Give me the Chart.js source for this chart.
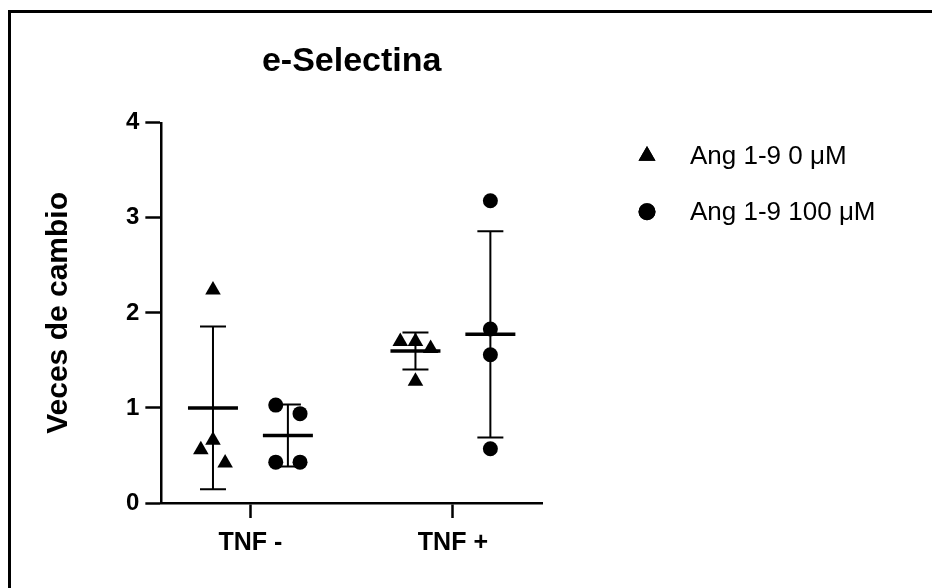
<!DOCTYPE html>
<html>
<head>
<meta charset="utf-8">
<script src="https://cdn.jsdelivr.net/npm/chart.js@4.4.1/dist/chart.umd.min.js"></script>
<style>
    html, body { margin: 0; padding: 0; background: #fff; }
    #marco-externo { position: relative; width: 932px; height: 588px; overflow: hidden; }
    #marco { position: absolute; left: 8px; top: 10px; width: 1000px; height: 700px; border: 3px solid #000; }
    #grafico { position: absolute; left: 0; top: 0; }
</style>
</head>
<body>
<div id="marco-externo">
    <div id="marco"></div>
    <canvas id="grafico" width="932" height="588"></canvas>
</div>
<script>
// ============================================
// DATOS
// ============================================
const categorias = ['TNF -', 'TNF +'];
const ticksY = [0, 1, 2, 3, 4];
const series = ['Ang 1-9 0 \u03bcM', 'Ang 1-9 100 \u03bcM'];

// valores individuales (4 por grupo)
const ang0TnfMenos = [2.24, 0.56, 0.66, 0.42];
const ang0TnfMas = [1.70, 1.70, 1.625, 1.28];
const ang100TnfMenos = [1.03, 0.94, 0.43, 0.43];
const ang100TnfMas = [3.18, 1.83, 1.56, 0.57];

// media y desviacion estandar por grupo
const mediaAng0 = [1.00, 1.60];
const deAng0 = [0.856, 0.195];
const mediaAng100 = [0.71, 1.775];
const deAng100 = [0.325, 1.085];

// posicion horizontal: serie dentro de la categoria y dispersion de los puntos
const desplazamientoSerie = [-0.185, 0.185];
const dispersionAng0 = [[0, -0.06, 0, 0.06], [-0.075, 0, 0.075, 0]];
const dispersionAng100 = [[-0.06, 0.06, -0.06, 0.06], [0, 0, 0, 0]];

const fuente = "'Liberation Sans', Arial, sans-serif";

// ============================================
// FUNCIONES
// ============================================
function puntos(grupos, dispersion, serie) {
    const resultado = [];
    grupos.forEach(function (valores, cat) {
        valores.forEach(function (v, k) {
            resultado.push({ x: cat + desplazamientoSerie[serie] + dispersion[cat][k], y: v });
        });
    });
    return resultado;
}

// media (linea gruesa) y DE (linea con topes)
const mediaDE = {
    id: 'mediaDE',
    afterDatasetsDraw: function (chart) {
        const ctx = chart.ctx;
        const xScale = chart.scales.x;
        const yScale = chart.scales.y;
        ctx.save();
        ctx.strokeStyle = '#000';
        ctx.lineCap = 'butt';
        chart.data.datasets.forEach(function (ds, i) {
            ds.media.forEach(function (m, cat) {
                const cx = xScale.getPixelForValue(cat + desplazamientoSerie[i]);
                const yM = yScale.getPixelForValue(m);
                const yA = yScale.getPixelForValue(m + ds.de[cat]);
                const yB = yScale.getPixelForValue(m - ds.de[cat]);
                ctx.lineWidth = 2;
                ctx.beginPath();
                ctx.moveTo(cx, yA); ctx.lineTo(cx, yB);
                ctx.moveTo(cx - 13, yA); ctx.lineTo(cx + 13, yA);
                ctx.moveTo(cx - 13, yB); ctx.lineTo(cx + 13, yB);
                ctx.stroke();
                ctx.lineWidth = 3.5;
                ctx.beginPath();
                ctx.moveTo(cx - 25, yM); ctx.lineTo(cx + 25, yM);
                ctx.stroke();
            });
        });
        ctx.restore();
    }
};

// leyenda a la derecha del grafico
const leyenda = {
    id: 'leyenda',
    afterDraw: function (chart) {
        const ctx = chart.ctx;
        const area = chart.chartArea;
        ctx.save();
        ctx.fillStyle = '#000';
        ctx.font = '26px ' + fuente;
        ctx.textBaseline = 'middle';
        ctx.textAlign = 'left';
        chart.data.datasets.forEach(function (ds, i) {
            const x = area.right + 105;
            const y = area.top + 33 + i * 56;
            Chart.helpers.drawPoint(ctx, {
                pointStyle: ds.pointStyle,
                radius: ds.pointStyle === 'triangle' ? 9.8 : 8.5,
                rotation: 0,
                borderWidth: 0
            }, x, y);
            ctx.fillStyle = '#000';
            ctx.fill();
            ctx.fillText(ds.label, x + 43, y + 1);
        });
        ctx.restore();
    }
};

// ============================================
// GRAFICO
// ============================================
new Chart(document.querySelector('#grafico'), {
    type: 'scatter',
    data: {
        datasets: [
            {
                label: series[0],
                data: puntos([ang0TnfMenos, ang0TnfMas], dispersionAng0, 0),
                media: mediaAng0,
                de: deAng0,
                pointStyle: 'triangle',
                pointRadius: 9,
                backgroundColor: '#000',
                borderColor: '#000',
                borderWidth: 0
            },
            {
                label: series[1],
                data: puntos([ang100TnfMenos, ang100TnfMas], dispersionAng100, 1),
                media: mediaAng100,
                de: deAng100,
                pointStyle: 'circle',
                pointRadius: 7.5,
                backgroundColor: '#000',
                borderColor: '#000',
                borderWidth: 0
            }
        ]
    },
    options: {
        responsive: false,
        animation: false,
        layout: { padding: { left: 41, right: 390, top: 0, bottom: 20 } },
        scales: {
            x: {
                type: 'linear',
                min: -0.44,
                max: 1.44,
                afterBuildTicks: function (scale) {
                    scale.ticks = categorias.map(function (c, i) { return { value: i }; });
                },
                ticks: {
                    color: '#000',
                    font: { family: fuente, size: 25, weight: 'bold' },
                    padding: 10,
                    callback: function (value) { return categorias[value]; }
                },
                grid: { drawOnChartArea: false, drawTicks: true, tickLength: 15, tickWidth: 2.5, tickColor: '#000' },
                border: { display: true, color: '#000', width: 2.5 }
            },
            y: {
                min: 0,
                max: 4,
                afterBuildTicks: function (scale) {
                    scale.ticks = ticksY.map(function (v) { return { value: v }; });
                },
                ticks: {
                    color: '#000',
                    font: { family: fuente, size: 24, weight: 'bold' },
                    padding: 6
                },
                grid: { drawOnChartArea: false, drawTicks: true, tickLength: 16, tickWidth: 2.5, tickColor: '#000' },
                border: { display: true, color: '#000', width: 2.5 },
                title: {
                    display: true,
                    text: 'Veces de cambio',
                    color: '#000',
                    font: { family: fuente, size: 30, weight: 'bold' },
                    padding: { top: 0, bottom: 43 }
                }
            }
        },
        plugins: {
            legend: { display: false },
            tooltip: { enabled: false },
            title: {
                display: true,
                text: 'e-Selectina',
                fullSize: false,
                color: '#000',
                font: { family: fuente, size: 34, weight: 'bold' },
                padding: { top: 41, bottom: 41 }
            }
        }
    },
    plugins: [mediaDE, leyenda]
});
</script>
</body>
</html>
